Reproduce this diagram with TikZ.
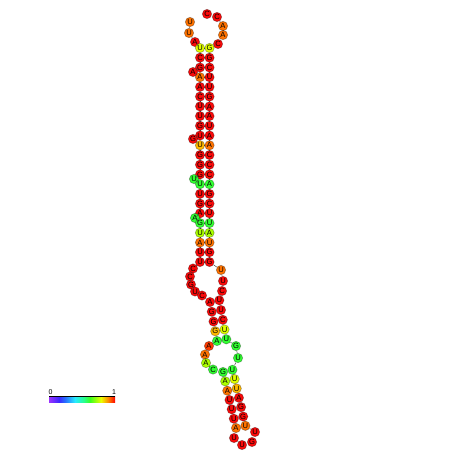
\documentclass[tikz,border=0pt]{standalone}
\usepackage{fontspec}
\setmainfont{Liberation Sans}
\definecolor{cR}{RGB}{250,10,10}
\definecolor{cRO}{RGB}{255,60,0}
\definecolor{cO}{RGB}{255,115,0}
\definecolor{cYO}{RGB}{255,185,0}
\definecolor{cY}{RGB}{225,255,0}
\definecolor{cL}{RGB}{170,255,0}
\definecolor{cG}{RGB}{50,255,50}
\definecolor{s0}{RGB}{155,50,255}
\definecolor{s1}{RGB}{60,40,255}
\definecolor{s2}{RGB}{40,110,255}
\definecolor{s3}{RGB}{40,235,255}
\definecolor{s4}{RGB}{40,255,140}
\definecolor{s5}{RGB}{60,255,30}
\definecolor{s6}{RGB}{235,255,0}
\definecolor{s7}{RGB}{255,140,0}
\definecolor{s8}{RGB}{255,0,0}
\newcommand\nuc[4]{\node[nt,fill=#4] (n#1) at (#2) {#3};}
\begin{document}
\begin{tikzpicture}[x=1pt,y=-1pt,
  nt/.style={circle,inner sep=0pt,minimum size=9.4pt,draw=black,draw opacity=0.3,line width=0.7pt,font=\fontsize{7.6}{7.6}\selectfont},
  bb/.style={line width=0.45pt,black!75},
  lbl/.style={inner sep=0pt,font=\fontsize{7}{7}\selectfont}]
\useasboundingbox (0,0) rectangle (452,452);
\fill[white] (0,0) rectangle (452,452);
% 5' exterior
\nuc{1}{190,22}{U}{cO}
\nuc{2}{189,33}{U}{cO}
\nuc{3}{195,42}{A}{cR}
% stem 1 left
\nuc{4}{200,48}{U}{cY}
\nuc{5}{200,57.7}{C}{cR}
\nuc{6}{200,67.5}{G}{cR}
\nuc{7}{193,72}{A}{cR}
\nuc{8}{200,77.2}{A}{cO}
\nuc{9}{200,86.9}{A}{cR}
\nuc{10}{200,96.6}{C}{cR}
\nuc{11}{200,106.4}{U}{cR}
\nuc{12}{200,116.1}{U}{cR}
\nuc{13}{200,125.8}{G}{cR}
\nuc{14}{200,135.5}{U}{cR}
\nuc{15}{193,139}{G}{cR}
\nuc{16}{200,145.3}{U}{cYO}
\nuc{17}{200,155}{G}{cR}
\nuc{18}{200,164.7}{G}{cR}
\nuc{19}{200,174.4}{G}{cR}
\nuc{20}{194,179}{U}{cG}
\nuc{21}{200,184.2}{U}{cG}
\nuc{22}{200,193.9}{U}{cR}
\nuc{23}{200,203.6}{G}{cR}
\nuc{24}{200,213.3}{A}{cR}
\nuc{25}{195,218}{A}{cG}
\nuc{26}{200,223.1}{G}{cG}
\nuc{27}{200,232.8}{U}{cL}
\nuc{28}{200,242.5}{A}{cO}
\nuc{29}{200,252.2}{U}{cR}
\nuc{30}{200,262}{U}{cR}
% loop 1 left
\nuc{31}{193,268.5}{C}{cR}
\nuc{32}{190,276.5}{C}{cR}
\nuc{33}{191,284.5}{G}{cR}
\nuc{34}{195,291.5}{U}{cR}
\nuc{35}{202,295.5}{C}{cR}
% stem 2 left
\nuc{36}{210,302}{A}{cR}
\nuc{37}{211.75,311.75}{G}{cR}
\nuc{38}{213.5,321.5}{G}{cR}
\nuc{39}{215.25,331.25}{G}{cYO}
\nuc{40}{217,341}{A}{cG}
% loop 2 left
\nuc{41}{209,346}{A}{cRO}
\nuc{42}{205,354.5}{A}{cO}
\nuc{43}{206,363}{A}{cL}
\nuc{44}{213,369.5}{C}{cG}
% stem 3 left
\nuc{45}{223,372}{G}{cG}
\nuc{46}{225.2,381.3}{A}{cL}
\nuc{47}{227.3,390.7}{A}{cO}
\nuc{48}{229.5,400}{U}{cR}
\nuc{49}{231.7,409.3}{U}{cR}
\nuc{50}{233.8,418.7}{U}{cR}
\nuc{51}{236,428}{A}{cO}
% hairpin
\nuc{52}{234,438}{U}{cR}
\nuc{53}{242,445}{U}{cR}
\nuc{54}{252,442}{G}{cR}
\nuc{55}{255,432}{U}{cR}
% stem 3 right
\nuc{56}{245.4,425.8}{U}{cO}
\nuc{57}{243.2,416.5}{G}{cR}
\nuc{58}{241.1,407.1}{G}{cR}
\nuc{59}{238.9,397.8}{A}{cR}
\nuc{60}{236.7,388.5}{U}{cYO}
\nuc{61}{234.6,379.1}{U}{cY}
\nuc{62}{232.4,369.8}{U}{cG}
% loop 2 right
\nuc{63}{238,358}{U}{cG}
\nuc{64}{236,346}{G}{cG}
% stem 2 right
\nuc{65}{226.3,339.3}{U}{cG}
\nuc{66}{224.5,329.5}{U}{cY}
\nuc{67}{222.8,319.8}{C}{cR}
\nuc{68}{221,310}{U}{cR}
\nuc{69}{219.3,300.3}{U}{cR}
% loop 1 right
\nuc{70}{222,291}{C}{cR}
\nuc{71}{223,281}{U}{cR}
\nuc{72}{221,270}{U}{cO}
% stem 1 right
\nuc{73}{209.5,262}{G}{cR}
\nuc{74}{209.5,252.2}{G}{cR}
\nuc{75}{209.5,242.5}{U}{cO}
\nuc{76}{209.5,232.8}{A}{cL}
\nuc{77}{209.5,223.1}{U}{cG}
\nuc{78}{209.5,213.3}{U}{cR}
\nuc{79}{209.5,203.6}{C}{cR}
\nuc{80}{209.5,193.9}{G}{cR}
\nuc{81}{209.5,184.2}{A}{cG}
\nuc{82}{209.5,174.4}{C}{cR}
\nuc{83}{209.5,164.7}{C}{cR}
\nuc{84}{209.5,155}{C}{cR}
\nuc{85}{209.5,145.3}{A}{cO}
\nuc{86}{209.5,135.5}{A}{cR}
\nuc{87}{209.5,125.8}{U}{cR}
\nuc{88}{209.5,116.1}{A}{cR}
\nuc{89}{209.5,106.4}{A}{cR}
\nuc{90}{209.5,96.6}{G}{cR}
\nuc{91}{209.5,86.9}{U}{cR}
\nuc{92}{209.5,77.2}{U}{cR}
\nuc{93}{209.5,67.5}{C}{cR}
\nuc{94}{209.5,57.7}{G}{cR}
\nuc{95}{209.5,48}{G}{cY}
% 3' exterior
\nuc{96}{218,44}{C}{cR}
\nuc{97}{223,35}{A}{cO}
\nuc{98}{223,26}{A}{cO}
\nuc{99}{217,17}{C}{cR}
\nuc{100}{207,14}{C}{cR}
% backbone
\foreach \i [evaluate=\i as \j using int(\i+1)] in {1,...,99}
  \draw[bb] (n\i) -- (n\j);
% base pairs
\foreach \a/\b in {4/95,5/94,6/93,8/92,9/91,10/90,11/89,12/88,13/87,14/86,16/85,17/84,18/83,19/82,21/81,22/80,23/79,24/78,26/77,27/76,28/75,29/74,30/73,36/69,37/68,38/67,39/66,40/65,45/62,46/61,47/60,48/59,49/58,50/57,51/56}
  \draw[bb] (n\a) -- (n\b);
% colour scale
\shade[left color=s0,right color=s1] (49,396.5) rectangle (59,402.5);
\shade[left color=s1,right color=s2] (59,396.5) rectangle (65,402.5);
\shade[left color=s2,right color=s3] (65,396.5) rectangle (75,402.5);
\shade[left color=s3,right color=s4] (75,396.5) rectangle (84,402.5);
\shade[left color=s4,right color=s5] (84,396.5) rectangle (90,402.5);
\shade[left color=s5,right color=s6] (90,396.5) rectangle (101,402.5);
\shade[left color=s6,right color=s7] (101,396.5) rectangle (108,402.5);
\shade[left color=s7,right color=s8] (108,396.5) rectangle (115,402.5);
\draw[line width=0.5pt] (49,396.5) -- (115,396.5);
\node[lbl] (l0) at (50.5,392) {0};
\node[lbl] (l1) at (114,392) {1};
\end{tikzpicture}
\end{document}
